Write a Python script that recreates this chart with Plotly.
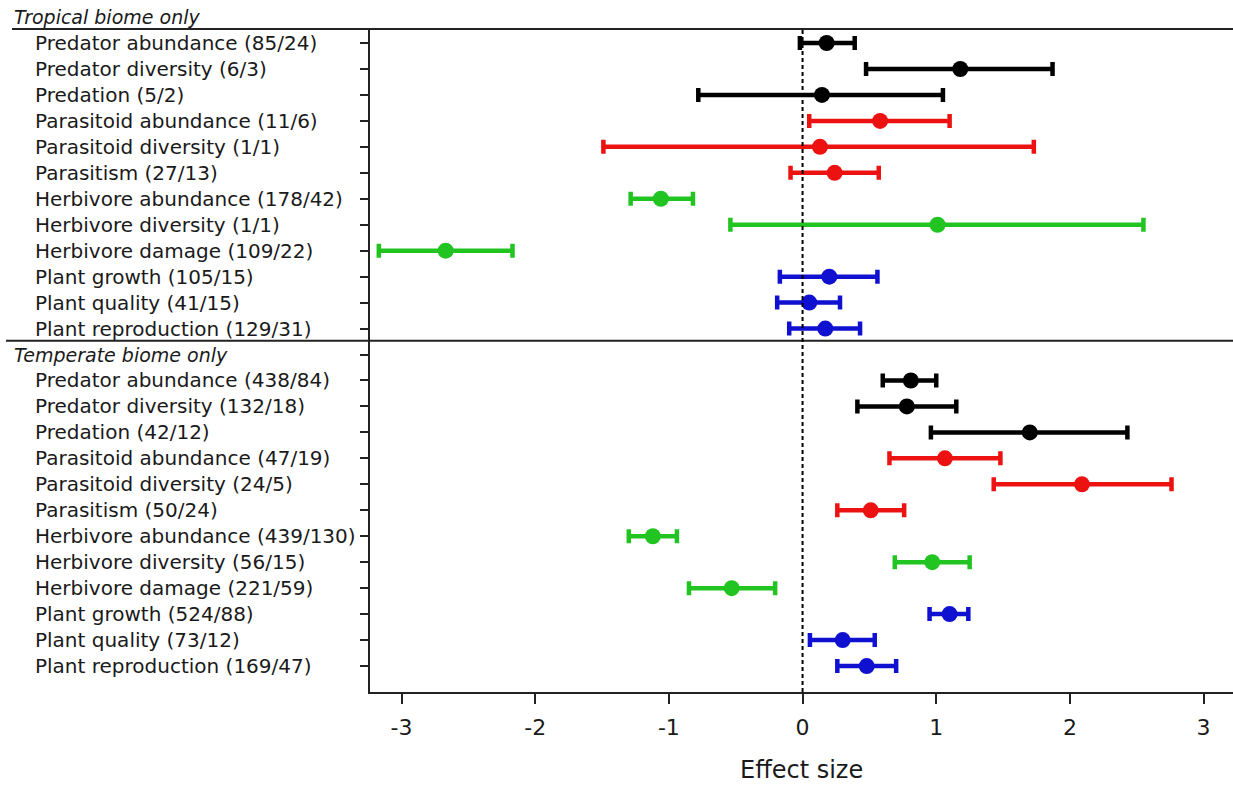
import plotly.graph_objects as go

# ---------------- data ----------------
categories = ["Predator abundance", "Predator diversity", "Predation",
              "Parasitoid abundance", "Parasitoid diversity", "Parasitism",
              "Herbivore abundance", "Herbivore diversity", "Herbivore damage",
              "Plant growth", "Plant quality", "Plant reproduction"]
groups = ["Predators", "Predators", "Predators",
          "Parasitoids", "Parasitoids", "Parasitoids",
          "Herbivores", "Herbivores", "Herbivores",
          "Plants", "Plants", "Plants"]
group_colors = {"Predators": "#000000", "Parasitoids": "#ec1212",
                "Herbivores": "#22c422", "Plants": "#1010d0"}

counts_tropical = ["85/24", "6/3", "5/2", "11/6", "1/1", "27/13",
                   "178/42", "1/1", "109/22", "105/15", "41/15", "129/31"]
est_tropical = [0.18, 1.18, 0.145, 0.58, 0.13, 0.24,
                -1.06, 1.01, -2.67, 0.20, 0.05, 0.17]
lo_tropical = [-0.02, 0.475, -0.78, 0.05, -1.49, -0.09,
               -1.286, -0.54, -3.17, -0.17, -0.19, -0.10]
hi_tropical = [0.39, 1.87, 1.05, 1.10, 1.73, 0.57,
               -0.82, 2.55, -2.17, 0.56, 0.28, 0.43]

counts_temperate = ["438/84", "132/18", "42/12", "47/19", "24/5", "50/24",
                    "439/130", "56/15", "221/59", "524/88", "73/12", "169/47"]
est_temperate = [0.81, 0.78, 1.70, 1.065, 2.09, 0.51,
                 -1.12, 0.97, -0.53, 1.10, 0.30, 0.48]
lo_temperate = [0.60, 0.41, 0.96, 0.65, 1.43, 0.26,
                -1.30, 0.69, -0.85, 0.95, 0.055, 0.26]
hi_temperate = [1.00, 1.15, 2.43, 1.48, 2.76, 0.76,
                -0.94, 1.25, -0.205, 1.24, 0.54, 0.70]

section_titles = ["Tropical biome only", "Temperate biome only"]
x_ticks = [-3, -2, -1, 0, 1, 2, 3]
x_title = "Effect size"

# ---------------- layout constants ----------------
W, H = 1233, 785
ML, MR, MT, MB = 370, 0, 29, 93
PW = W - ML - MR
PH = H - MT - MB
FONT = "DejaVu Sans"
TXT = "#1a1a1a"

n = len(categories)
pos_trop = list(range(n))                 # rows 0..11
pos_temp = [n + 1 + i for i in range(n)]  # rows 13..24 (row 12 = header)

fig = go.Figure()

for g in ["Predators", "Parasitoids", "Herbivores", "Plants"]:
    idx = [i for i in range(n) if groups[i] == g]
    xs, ys, plus, minus = [], [], [], []
    for i in idx:
        xs.append(est_tropical[i]); ys.append(pos_trop[i])
        plus.append(hi_tropical[i] - est_tropical[i]); minus.append(est_tropical[i] - lo_tropical[i])
        xs.append(est_temperate[i]); ys.append(pos_temp[i])
        plus.append(hi_temperate[i] - est_temperate[i]); minus.append(est_temperate[i] - lo_temperate[i])
    col = group_colors[g]
    fig.add_trace(go.Scatter(
        x=xs, y=ys, mode="markers", name=g, showlegend=False,
        marker=dict(size=16, color=col, symbol="circle"),
        error_x=dict(type="data", symmetric=False, array=plus, arrayminus=minus,
                     color=col, thickness=4.5, width=7),
        cliponaxis=False,
    ))

ann = []
lab_x = (33 - ML) / PW
head_x = (12 - ML) / PW
for i in range(n):
    ann.append(dict(text=f"{categories[i]} ({counts_tropical[i]})", xref="paper", yref="y",
                    x=lab_x, y=pos_trop[i], xanchor="left", yanchor="middle", showarrow=False,
                    font=dict(family=FONT, size=20, color=TXT)))
    ann.append(dict(text=f"{categories[i]} ({counts_temperate[i]})", xref="paper", yref="y",
                    x=lab_x, y=pos_temp[i], xanchor="left", yanchor="middle", showarrow=False,
                    font=dict(family=FONT, size=20, color=TXT)))
ann.append(dict(text=section_titles[0], xref="paper", yref="paper", x=head_x,
                y=(H - MB - 17) / PH,
                xanchor="left", yanchor="middle", showarrow=False,
                font=dict(family=FONT, size=19, color=TXT, style="italic")))
ann.append(dict(text=section_titles[1], xref="paper", yref="y", x=head_x, y=n,
                xanchor="left", yanchor="middle", showarrow=False,
                font=dict(family=FONT, size=19, color=TXT, style="italic")))
ann.append(dict(text=x_title, xref="paper", yref="paper", x=0.5,
                y=-(770 - (H - MB)) / PH,
                xanchor="center", yanchor="middle", showarrow=False,
                font=dict(family=FONT, size=24, color=TXT)))

shapes = [
    dict(type="line", xref="paper", yref="paper", x0=head_x, x1=1, y0=1, y1=1,
         line=dict(color="#222222", width=2)),
    dict(type="line", xref="paper", yref="y", x0=(6 - ML) / PW, x1=1, y0=11.47, y1=11.47,
         line=dict(color="#222222", width=2)),
    dict(type="line", xref="x", yref="paper", x0=0, x1=0, y0=0, y1=1,
         line=dict(color="#000000", width=2, dash="4px,3px")),
]

fig.update_layout(
    width=W, height=H,
    margin=dict(l=ML, r=MR, t=MT, b=MB, pad=0),
    paper_bgcolor="white", plot_bgcolor="white",
    showlegend=False,
    annotations=ann, shapes=shapes,
    xaxis=dict(range=[-3.236, 3.22], tickvals=x_ticks, ticktext=[str(v) for v in x_ticks],
               ticks="outside", ticklen=10, tickwidth=2, tickcolor="#222222",
               showline=True, linewidth=2, linecolor="#222222",
               showgrid=False, zeroline=False, ticklabelstandoff=5,
               tickfont=dict(family=FONT, size=22, color=TXT)),
    yaxis=dict(range=[25.0, -0.54], tickvals=list(range(2 * n + 1)),
               ticks="outside", ticklen=8, tickwidth=2, tickcolor="#222222",
               showticklabels=False, showline=True, linewidth=2, linecolor="#222222",
               showgrid=False, zeroline=False),
)

fig.write_html("out.html")
